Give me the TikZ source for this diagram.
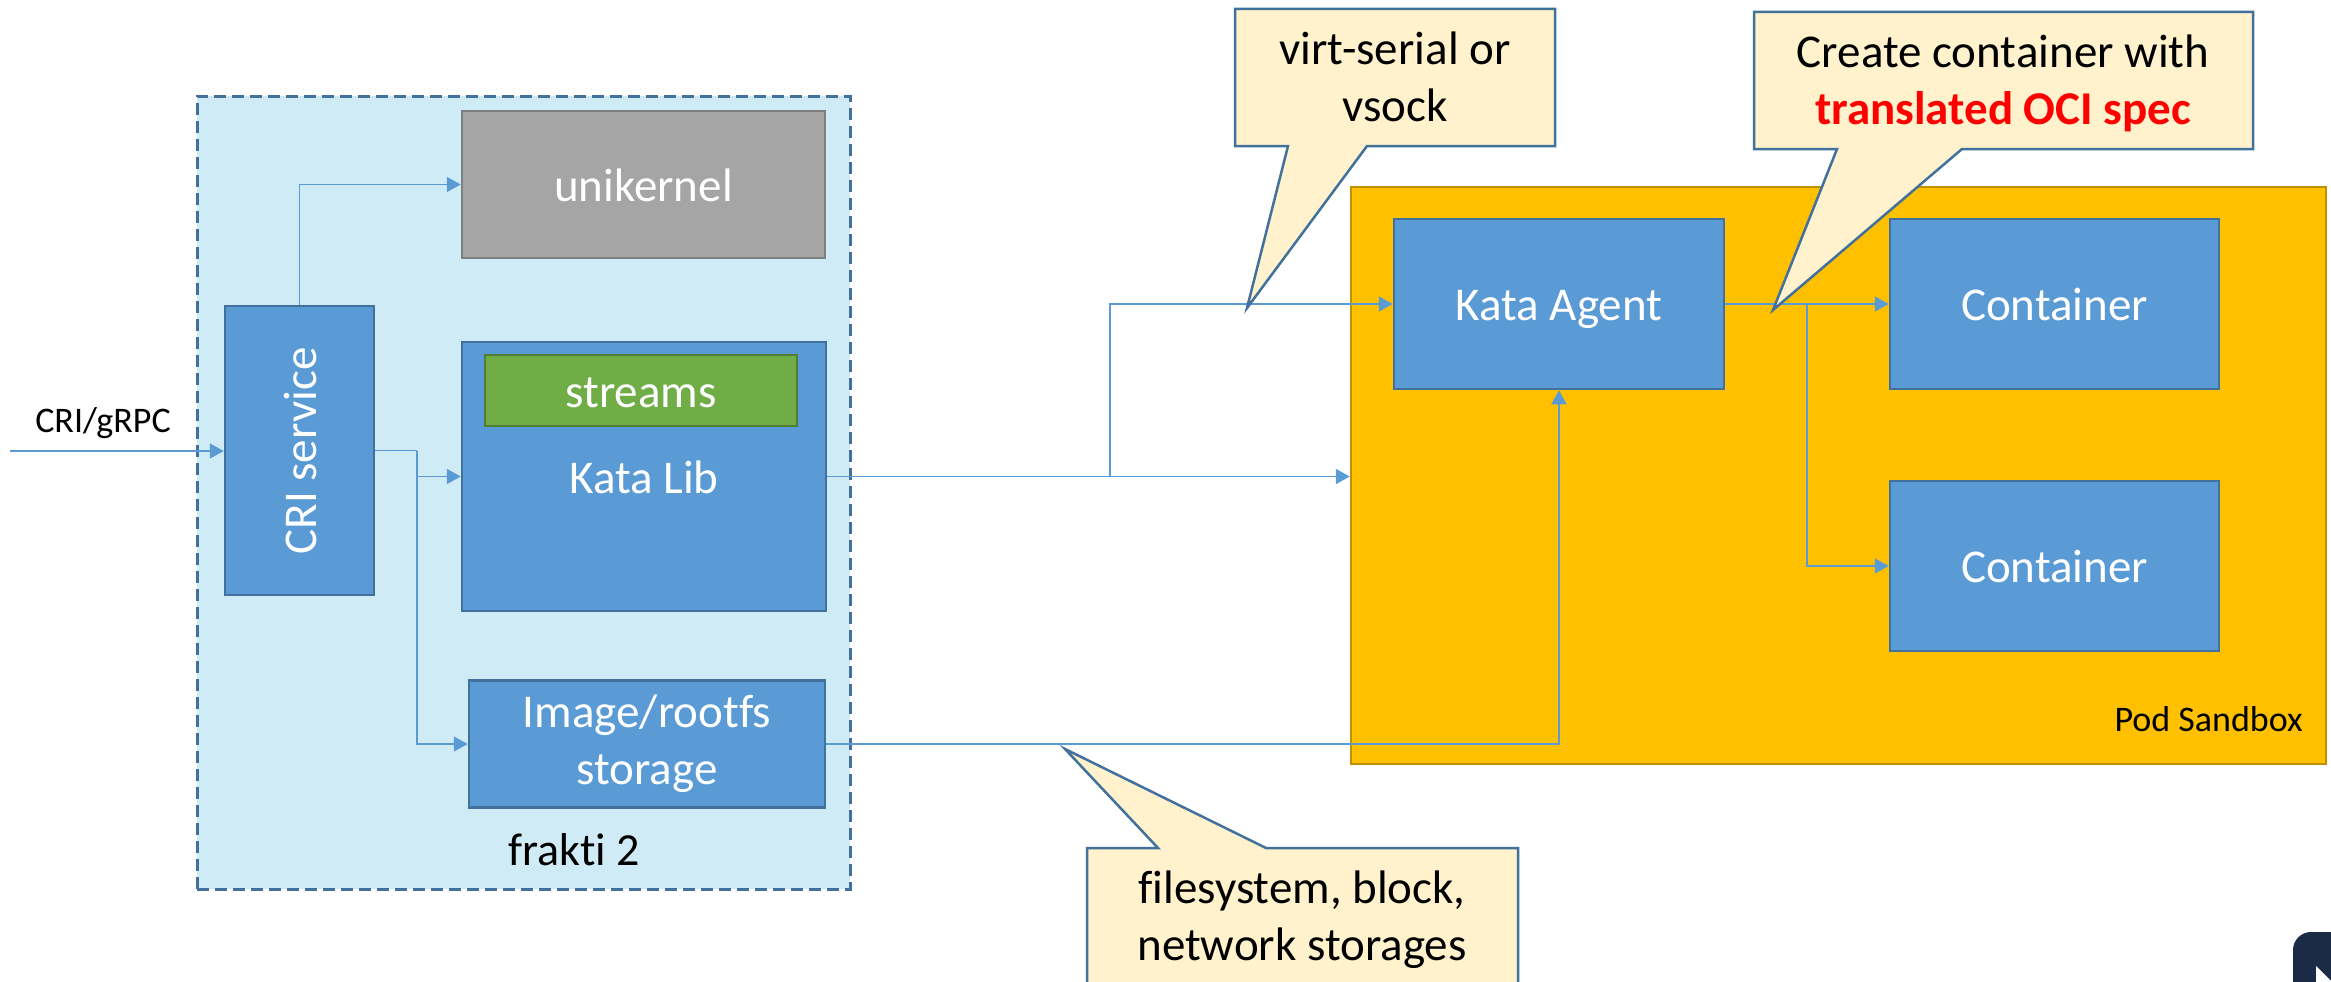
\documentclass[tikz,border=0pt]{standalone}
\usepackage{fontspec}
\setmainfont{Carlito}[Ligatures=NoCommon]
\usetikzlibrary{arrows.meta,calc}
\definecolor{fraktibg}{RGB}{207,235,245}
\definecolor{boxblue}{RGB}{91,155,213}
\definecolor{boxborder}{RGB}{65,113,156}
\definecolor{unigray}{RGB}{165,165,165}
\definecolor{unigrayb}{RGB}{127,127,127}
\definecolor{streamgreen}{RGB}{112,173,71}
\definecolor{streamgreenb}{RGB}{80,126,50}
\definecolor{podgold}{RGB}{255,192,0}
\definecolor{podgoldb}{RGB}{191,144,0}
\definecolor{calloutfill}{RGB}{255,242,204}
\definecolor{arrowblue}{RGB}{91,155,213}
\definecolor{iconnavy}{RGB}{27,42,69}
\tikzset{
  bigfont/.style={font=\fontsize{47pt}{57pt}\selectfont},
  bluebox/.style={draw=boxborder, fill=boxblue, line width=2.5pt, text=white, bigfont, align=center, inner sep=0pt},
  oneline/.style={text height=36pt, text depth=3pt},
  callout/.style={draw=boxborder, fill=calloutfill, line width=2.5pt, line join=miter},
  calltext/.style={bigfont, align=center, text=black, inner sep=0pt},
  arr/.style={draw=arrowblue, line width=1.6pt, -{Triangle[length=14pt,width=15pt]}},
  plainline/.style={draw=arrowblue, line width=1.6pt}
}
\begin{document}
\begin{tikzpicture}[x=1pt,y=-1pt]
\useasboundingbox (0,0) rectangle (2331,982);
\clip (0,0) rectangle (2331,982);
\fill[white] (0,0) rectangle (2331,982);

% frakti container
\node[draw=boxborder, fill=fraktibg, line width=3pt, dash pattern=on 12pt off 6pt,
      minimum width=653pt, minimum height=793pt, inner sep=0pt] (frakti) at (523.5,492.5) {};
\node[font=\fontsize{46pt}{55pt}\selectfont, anchor=base, inner sep=0pt] (fraktilabel) at (574,865) {frakti 2};

% boxes in frakti
\node[bluebox, oneline, fill=unigray, draw=unigrayb, minimum width=363pt, minimum height=147pt] (uni) at (643.5,184.5) {unikernel};
\node[bluebox, minimum width=149pt, minimum height=289pt] (cri) at (299.5,450.5) {};
\node[rotate=90, text=white, bigfont, inner sep=0pt] (critext) at (301,451) {CRI service};
\node[bluebox, minimum width=364pt, minimum height=269pt] (katalib) at (644,476.5) {};
\node[text=white, bigfont, oneline, inner sep=0pt] (katalibtext) at (644,477) {Kata Lib};
\node[bluebox, oneline, fill=streamgreen, draw=streamgreenb, minimum width=312pt, minimum height=71pt] (streams) at (641,390.5) {streams};
\node[bluebox, minimum width=356pt, minimum height=127pt] (img) at (647,744) {Image/rootfs\\storage};

% input
\node[font=\fontsize{36pt}{43pt}\selectfont, anchor=base, inner sep=0pt] (grpc) at (103,432) {CRI/gRPC};
\coordinate (in) at (10,451);

% pod sandbox
\node[draw=podgoldb, fill=podgold, line width=2.5pt, minimum width=975pt, minimum height=577pt, inner sep=0pt] (pod) at (1838.5,475.5) {};
\node[font=\fontsize{36pt}{43pt}\selectfont, anchor=base east, inner sep=0pt] (podlabel) at (2303,731) {Pod Sandbox};
\node[bluebox, oneline, minimum width=330pt, minimum height=170pt] (agent) at (1559,304) {Kata Agent};
\node[bluebox, oneline, minimum width=329pt, minimum height=170pt] (c1) at (2054.5,304) {Container};
\node[bluebox, oneline, minimum width=329pt, minimum height=170pt] (c2) at (2054.5,566) {Container};

% connectors
\coordinate (j1) at (417,450.5);
\coordinate (j2) at (1110,476);
\coordinate (j3) at (1807,304);
\draw[arr] (in) -- (in -| cri.west);
\draw[arr] (cri.north) |- (uni.west);
\draw[plainline] (cri.east) -- (j1);
\draw[arr] (j1) |- (katalib.west);
\draw[arr] (j1) |- (img.west);
\draw[arr] (katalib.east) -- (katalib.east -| pod.west);
\draw[arr] (j2) |- (agent.west);
\draw[arr] (img.east) -| (agent.south);
\draw[arr] (agent.east) -- (c1.west);
\draw[arr] (j3) |- (c2.west);

% callouts
\draw[callout] (1235,9) -- (1555,9) -- (1555,146) -- (1367,146) -- (1247,308) -- (1288,146) -- (1235,146) -- cycle;
\node[calltext] (vtext) at (1395,77) {virt-serial or\\vsock};
\draw[callout] (1754,12) -- (2253,12) -- (2253,149) -- (1962,149) -- (1773,310) -- (1837,149) -- (1754,149) -- cycle;
\node[calltext] (ctext) at (2003,83) {Create container with\\\textcolor{red}{\bfseries translated OCI spec}};
\draw[callout] (1087,848) -- (1158,848) -- (1065,749) -- (1266,848) -- (1518,848) -- (1518,1000) -- (1087,1000) -- cycle;
\node[calltext] (ftext) at (1302,920) {filesystem, block,\\network storages};

% corner icon
\fill[iconnavy, rounded corners=18pt] (2293,932) rectangle (2360,1020);
\fill[white] (2316,966) -- (2340,990) -- (2316,990) -- cycle;
\end{tikzpicture}
\end{document}
